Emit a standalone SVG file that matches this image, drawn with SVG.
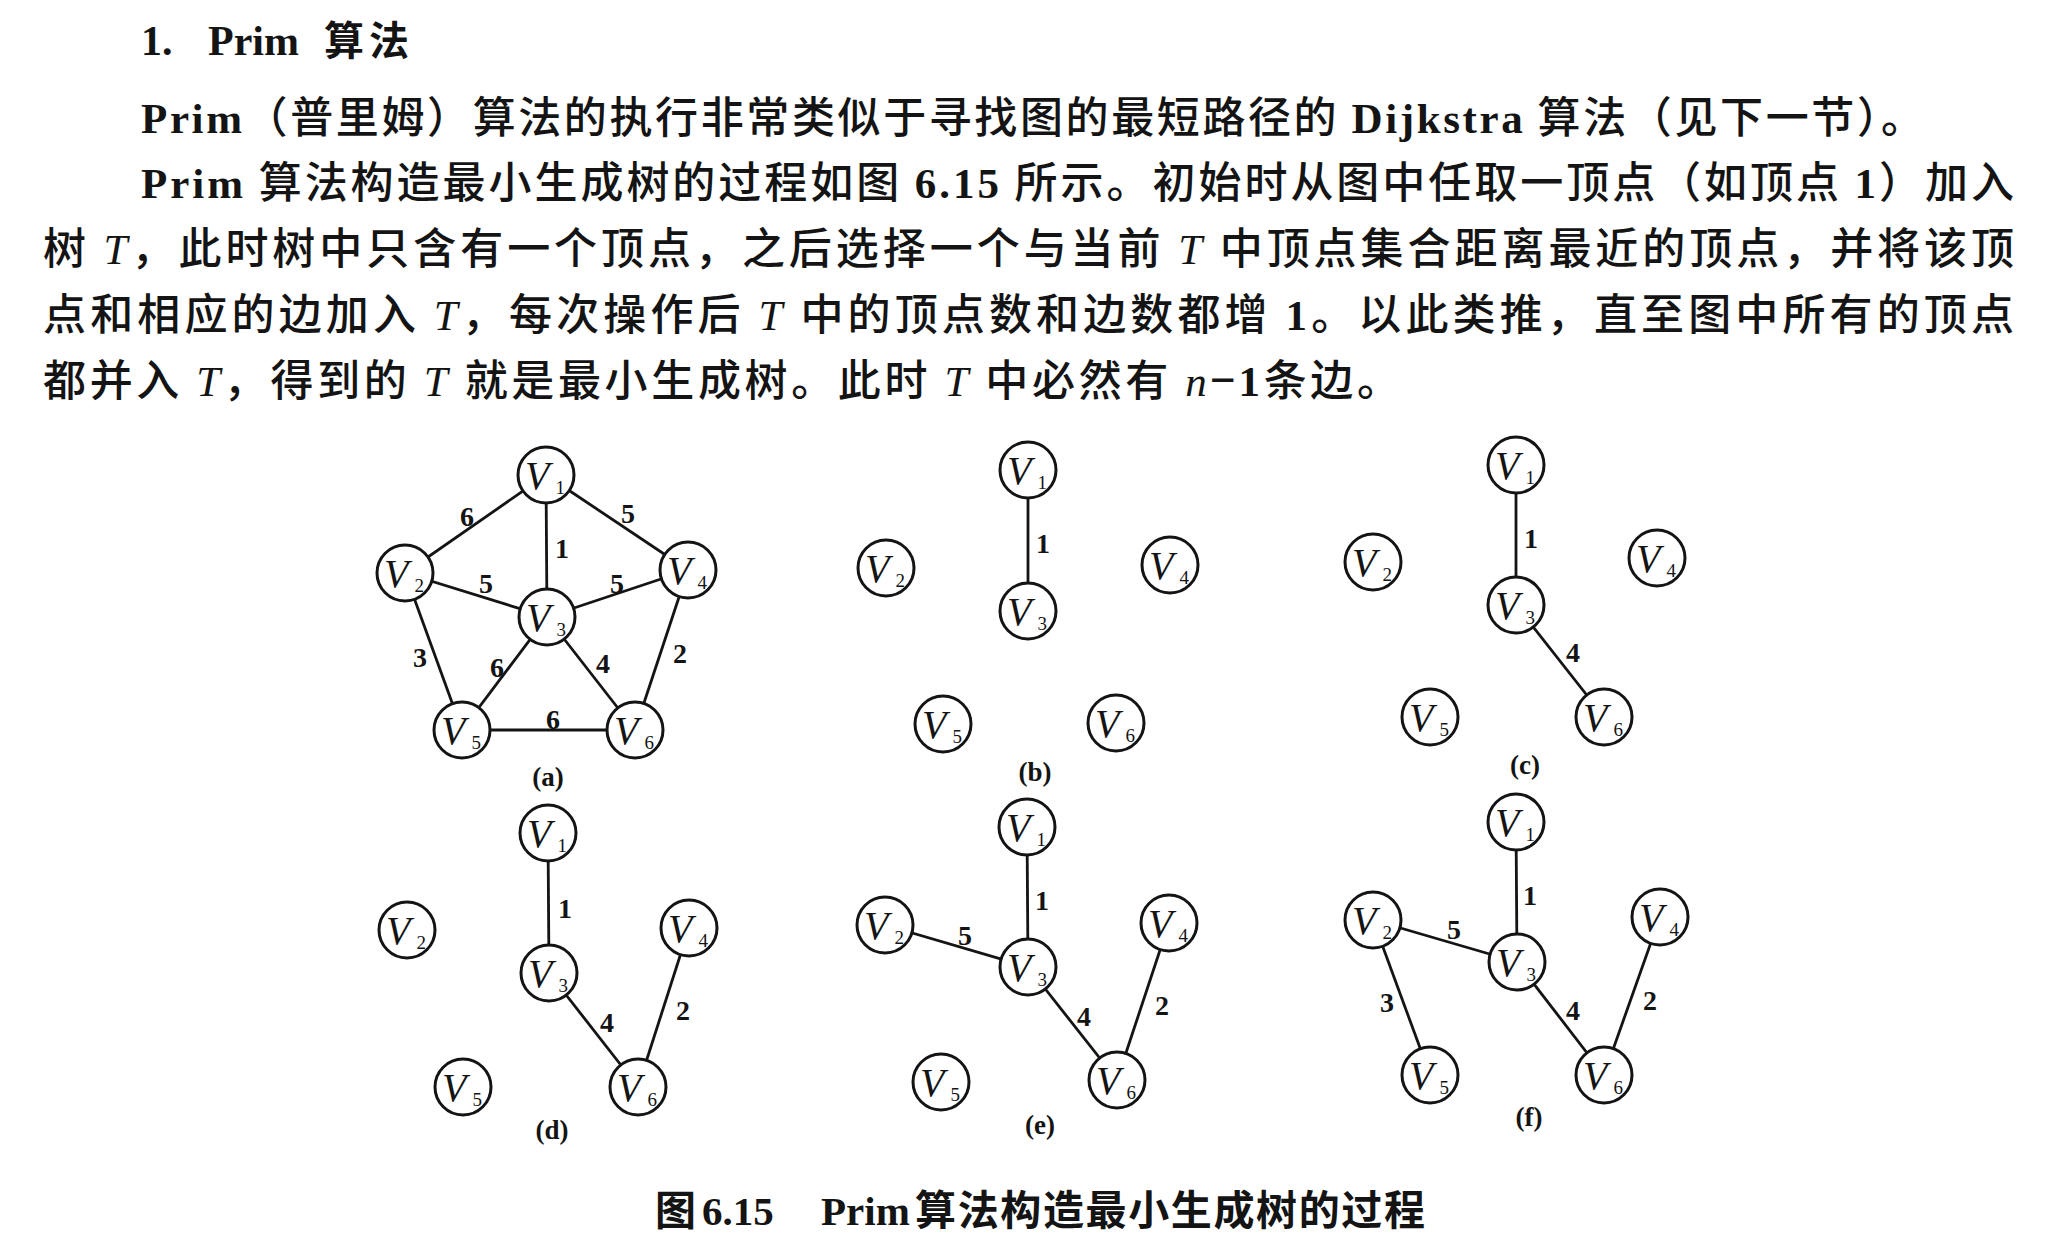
<svg xmlns="http://www.w3.org/2000/svg" width="2054" height="1254" viewBox="0 0 2054 1254">
<style>
.body{font-family:"Noto Sans CJK SC","Liberation Serif",sans-serif;font-size:43px;fill:#141414;font-weight:500}
.lat{font-family:"Liberation Serif",serif;font-weight:bold;font-size:43px}
.it{font-family:"Liberation Serif",serif;font-style:italic;font-size:43px}
.head{font-family:"Liberation Serif","Noto Sans CJK SC",serif;font-weight:bold;font-size:42px;fill:#141414}
.headcjk{font-family:"Noto Sans CJK SC",sans-serif;font-weight:bold;font-size:40px}
.cap{font-family:"Noto Sans CJK SC",sans-serif;font-weight:bold;font-size:41px;fill:#141414}
.caplat{font-family:"Liberation Serif",serif;font-weight:bold;font-size:41px}
.e line{stroke:#141414;stroke-width:2.8}
.w{font-family:"Liberation Serif",serif;font-size:28px;font-weight:bold;fill:#141414;text-anchor:middle}
.n circle{fill:#fff;stroke:#141414;stroke-width:3}
.n text{font-family:"Liberation Serif",serif;font-style:italic;font-size:40px;fill:#141414}
.n tspan{font-size:19px;font-style:normal}
.pl{font-family:"Liberation Serif",serif;font-weight:bold;font-size:27px;fill:#141414;text-anchor:middle}
</style>
<rect width="2054" height="1254" fill="#fff"/>
<g id="text">
<text class="head" y="55"><tspan x="141">1.</tspan> <tspan x="208">Prim</tspan> <tspan class="headcjk" x="324" textLength="85" lengthAdjust="spacing">算法</tspan></text>
<text class="body" x="141" y="133" textLength="1783" lengthAdjust="spacing"><tspan class="lat">Prim</tspan>（普里姆）算法的执行非常类似于寻找图的最短路径的 <tspan class="lat">Dijkstra</tspan> 算法（见下一节）。</text>
<text class="body" x="141" y="198" textLength="1873" lengthAdjust="spacing"><tspan class="lat">Prim</tspan> 算法构造最小生成树的过程如图 <tspan class="lat">6.15</tspan> 所示。初始时从图中任取一顶点（如顶点 <tspan class="lat">1</tspan>）加入</text>
<text class="body" x="43" y="264" textLength="1971" lengthAdjust="spacing">树 <tspan class="it">T</tspan>，此时树中只含有一个顶点，之后选择一个与当前 <tspan class="it">T</tspan> 中顶点集合距离最近的顶点，并将该顶</text>
<text class="body" x="43" y="330" textLength="1971" lengthAdjust="spacing">点和相应的边加入 <tspan class="it">T</tspan>，每次操作后 <tspan class="it">T</tspan> 中的顶点数和边数都增 <tspan class="lat">1</tspan>。以此类推，直至图中所有的顶点</text>
<text class="body" x="43" y="396" textLength="1357" lengthAdjust="spacing">都并入 <tspan class="it">T</tspan>，得到的 <tspan class="it">T</tspan> 就是最小生成树。此时 <tspan class="it">T</tspan> 中必然有 <tspan class="it">n</tspan>−<tspan class="lat">1</tspan>条边。</text>
<text class="cap" y="1225"><tspan x="655">图</tspan> <tspan class="caplat" x="702">6.15</tspan> <tspan class="caplat" x="821">Prim</tspan> <tspan x="915" textLength="510" lengthAdjust="spacing">算法构造最小生成树的过程</tspan></text>
</g>
<g id="connectors" class="e">
<line x1="546" y1="475" x2="405" y2="573"/>
<line x1="546" y1="475" x2="547" y2="617"/>
<line x1="546" y1="475" x2="688" y2="570"/>
<line x1="405" y1="573" x2="547" y2="617"/>
<line x1="547" y1="617" x2="688" y2="570"/>
<line x1="405" y1="573" x2="462" y2="730"/>
<line x1="547" y1="617" x2="462" y2="730"/>
<line x1="547" y1="617" x2="635" y2="730"/>
<line x1="688" y1="570" x2="635" y2="730"/>
<line x1="462" y1="730" x2="635" y2="730"/>
<line x1="1028" y1="470" x2="1028" y2="611"/>
<line x1="1516" y1="465" x2="1516" y2="605"/>
<line x1="1516" y1="605" x2="1604" y2="717"/>
<line x1="548" y1="833" x2="549" y2="973"/>
<line x1="549" y1="973" x2="638" y2="1087"/>
<line x1="689" y1="928" x2="638" y2="1087"/>
<line x1="1027" y1="827" x2="1028" y2="967"/>
<line x1="885" y1="925" x2="1028" y2="967"/>
<line x1="1028" y1="967" x2="1117" y2="1080"/>
<line x1="1169" y1="923" x2="1117" y2="1080"/>
<line x1="1516" y1="822" x2="1517" y2="962"/>
<line x1="1373" y1="920" x2="1517" y2="962"/>
<line x1="1373" y1="920" x2="1430" y2="1075"/>
<line x1="1517" y1="962" x2="1604" y2="1075"/>
<line x1="1660" y1="917" x2="1604" y2="1075"/>
<g id="weights">
<text class="w" x="467" y="526">6</text>
<text class="w" x="628" y="523">5</text>
<text class="w" x="562" y="558">1</text>
<text class="w" x="486" y="593">5</text>
<text class="w" x="617" y="593">5</text>
<text class="w" x="420" y="667">3</text>
<text class="w" x="497" y="677">6</text>
<text class="w" x="603" y="673">4</text>
<text class="w" x="680" y="663">2</text>
<text class="w" x="553" y="729">6</text>
<text class="w" x="1043" y="553">1</text>
<text class="w" x="1531" y="548">1</text>
<text class="w" x="1573" y="662">4</text>
<text class="w" x="565" y="918">1</text>
<text class="w" x="607" y="1032">4</text>
<text class="w" x="683" y="1020">2</text>
<text class="w" x="1042" y="910">1</text>
<text class="w" x="965" y="945">5</text>
<text class="w" x="1084" y="1026">4</text>
<text class="w" x="1162" y="1015">2</text>
<text class="w" x="1530" y="905">1</text>
<text class="w" x="1454" y="939">5</text>
<text class="w" x="1387" y="1012">3</text>
<text class="w" x="1573" y="1020">4</text>
<text class="w" x="1650" y="1010">2</text>
</g>
</g>
<g id="a-v1" class="n"><circle cx="546" cy="475" r="28"/><text x="525" y="489">V<tspan dx="6" dy="5">1</tspan></text></g>
<g id="a-v2" class="n"><circle cx="405" cy="573" r="28"/><text x="384" y="587">V<tspan dx="6" dy="5">2</tspan></text></g>
<g id="a-v3" class="n"><circle cx="547" cy="617" r="28"/><text x="526" y="631">V<tspan dx="6" dy="5">3</tspan></text></g>
<g id="a-v4" class="n"><circle cx="688" cy="570" r="28"/><text x="667" y="584">V<tspan dx="6" dy="5">4</tspan></text></g>
<g id="a-v5" class="n"><circle cx="462" cy="730" r="28"/><text x="441" y="744">V<tspan dx="6" dy="5">5</tspan></text></g>
<g id="a-v6" class="n"><circle cx="635" cy="730" r="28"/><text x="614" y="744">V<tspan dx="6" dy="5">6</tspan></text></g>
<text id="label-a" class="pl" x="548" y="786">(a)</text>
<g id="b-v1" class="n"><circle cx="1028" cy="470" r="28"/><text x="1007" y="484">V<tspan dx="6" dy="5">1</tspan></text></g>
<g id="b-v2" class="n"><circle cx="886" cy="568" r="28"/><text x="865" y="582">V<tspan dx="6" dy="5">2</tspan></text></g>
<g id="b-v3" class="n"><circle cx="1028" cy="611" r="28"/><text x="1007" y="625">V<tspan dx="6" dy="5">3</tspan></text></g>
<g id="b-v4" class="n"><circle cx="1170" cy="565" r="28"/><text x="1149" y="579">V<tspan dx="6" dy="5">4</tspan></text></g>
<g id="b-v5" class="n"><circle cx="943" cy="724" r="28"/><text x="922" y="738">V<tspan dx="6" dy="5">5</tspan></text></g>
<g id="b-v6" class="n"><circle cx="1116" cy="723" r="28"/><text x="1095" y="737">V<tspan dx="6" dy="5">6</tspan></text></g>
<text id="label-b" class="pl" x="1035" y="781">(b)</text>
<g id="c-v1" class="n"><circle cx="1516" cy="465" r="28"/><text x="1495" y="479">V<tspan dx="6" dy="5">1</tspan></text></g>
<g id="c-v2" class="n"><circle cx="1373" cy="562" r="28"/><text x="1352" y="576">V<tspan dx="6" dy="5">2</tspan></text></g>
<g id="c-v3" class="n"><circle cx="1516" cy="605" r="28"/><text x="1495" y="619">V<tspan dx="6" dy="5">3</tspan></text></g>
<g id="c-v4" class="n"><circle cx="1657" cy="558" r="28"/><text x="1636" y="572">V<tspan dx="6" dy="5">4</tspan></text></g>
<g id="c-v5" class="n"><circle cx="1430" cy="717" r="28"/><text x="1409" y="731">V<tspan dx="6" dy="5">5</tspan></text></g>
<g id="c-v6" class="n"><circle cx="1604" cy="717" r="28"/><text x="1583" y="731">V<tspan dx="6" dy="5">6</tspan></text></g>
<text id="label-c" class="pl" x="1525" y="774">(c)</text>
<g id="d-v1" class="n"><circle cx="548" cy="833" r="28"/><text x="527" y="847">V<tspan dx="6" dy="5">1</tspan></text></g>
<g id="d-v2" class="n"><circle cx="407" cy="930" r="28"/><text x="386" y="944">V<tspan dx="6" dy="5">2</tspan></text></g>
<g id="d-v3" class="n"><circle cx="549" cy="973" r="28"/><text x="528" y="987">V<tspan dx="6" dy="5">3</tspan></text></g>
<g id="d-v4" class="n"><circle cx="689" cy="928" r="28"/><text x="668" y="942">V<tspan dx="6" dy="5">4</tspan></text></g>
<g id="d-v5" class="n"><circle cx="463" cy="1087" r="28"/><text x="442" y="1101">V<tspan dx="6" dy="5">5</tspan></text></g>
<g id="d-v6" class="n"><circle cx="638" cy="1087" r="28"/><text x="617" y="1101">V<tspan dx="6" dy="5">6</tspan></text></g>
<text id="label-d" class="pl" x="552" y="1139">(d)</text>
<g id="e-v1" class="n"><circle cx="1027" cy="827" r="28"/><text x="1006" y="841">V<tspan dx="6" dy="5">1</tspan></text></g>
<g id="e-v2" class="n"><circle cx="885" cy="925" r="28"/><text x="864" y="939">V<tspan dx="6" dy="5">2</tspan></text></g>
<g id="e-v3" class="n"><circle cx="1028" cy="967" r="28"/><text x="1007" y="981">V<tspan dx="6" dy="5">3</tspan></text></g>
<g id="e-v4" class="n"><circle cx="1169" cy="923" r="28"/><text x="1148" y="937">V<tspan dx="6" dy="5">4</tspan></text></g>
<g id="e-v5" class="n"><circle cx="941" cy="1082" r="28"/><text x="920" y="1096">V<tspan dx="6" dy="5">5</tspan></text></g>
<g id="e-v6" class="n"><circle cx="1117" cy="1080" r="28"/><text x="1096" y="1094">V<tspan dx="6" dy="5">6</tspan></text></g>
<text id="label-e" class="pl" x="1040" y="1134">(e)</text>
<g id="f-v1" class="n"><circle cx="1516" cy="822" r="28"/><text x="1495" y="836">V<tspan dx="6" dy="5">1</tspan></text></g>
<g id="f-v2" class="n"><circle cx="1373" cy="920" r="28"/><text x="1352" y="934">V<tspan dx="6" dy="5">2</tspan></text></g>
<g id="f-v3" class="n"><circle cx="1517" cy="962" r="28"/><text x="1496" y="976">V<tspan dx="6" dy="5">3</tspan></text></g>
<g id="f-v4" class="n"><circle cx="1660" cy="917" r="28"/><text x="1639" y="931">V<tspan dx="6" dy="5">4</tspan></text></g>
<g id="f-v5" class="n"><circle cx="1430" cy="1075" r="28"/><text x="1409" y="1089">V<tspan dx="6" dy="5">5</tspan></text></g>
<g id="f-v6" class="n"><circle cx="1604" cy="1075" r="28"/><text x="1583" y="1089">V<tspan dx="6" dy="5">6</tspan></text></g>
<text id="label-f" class="pl" x="1529" y="1126">(f)</text>
</svg>
